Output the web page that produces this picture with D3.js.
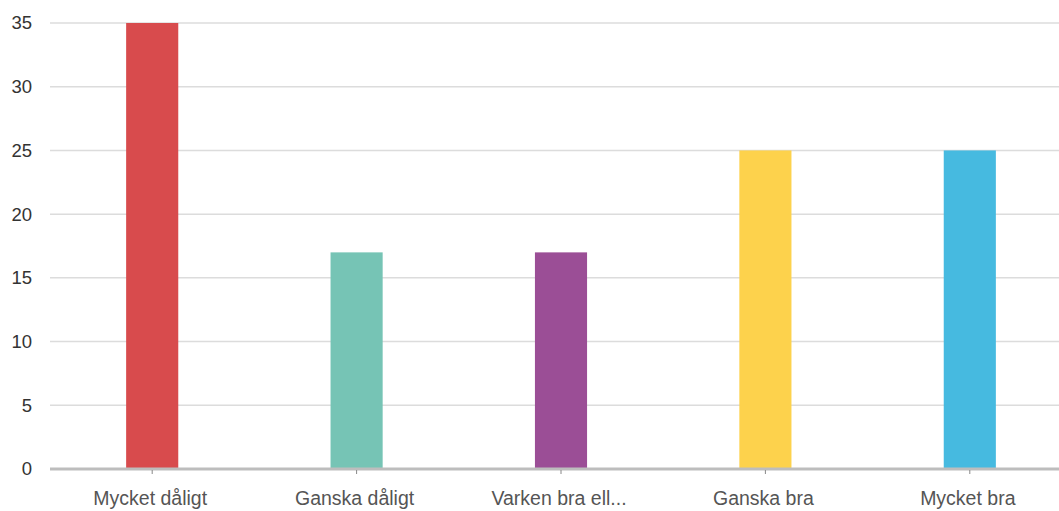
<!DOCTYPE html>
<html><head><meta charset="utf-8">
<script src="https://cdn.jsdelivr.net/npm/d3@7/dist/d3.min.js"></script>
<style>body{margin:0;background:#fff;}svg{display:block;}</style>
</head><body>
<svg id="c" width="1059" height="511"></svg>
<script>
const categories = ["Mycket dåligt","Ganska dåligt","Varken bra ell...","Ganska bra","Mycket bra"];
const values = [35,17,17,25,25];
const colors = ["#d84b4d","#76c4b5","#9b4e96","#fdd24c","#46bae0"];
const yTicks = [0,5,10,15,20,25,30,35];

const svg = d3.select("#c");
const x = d3.scaleBand().domain(categories).range([50,1072]).paddingInner(0.745).paddingOuter(0.3725);
const y = d3.scaleLinear().domain([0,35]).range([469,23]);

// gridlines
svg.append("g").selectAll("line").data(yTicks.filter(d=>d>0)).join("line")
  .attr("x1",50).attr("x2",1059).attr("y1",d=>y(d)).attr("y2",d=>y(d))
  .attr("stroke","#dcdcdc").attr("stroke-width",1.5);

// y axis labels
const ya = svg.append("g").attr("transform","translate(32,0)")
  .call(d3.axisLeft(y).tickValues(yTicks).tickSize(0).tickPadding(0));
ya.select(".domain").remove();
ya.selectAll("text").attr("font-family","Liberation Sans, Arial, sans-serif")
  .attr("font-size",18.5).attr("fill","#333");

// bars
svg.append("g").selectAll("rect").data(values).join("rect")
  .attr("x",(d,i)=>x(categories[i])).attr("width",x.bandwidth())
  .attr("y",d=>y(d)).attr("height",d=>y(0)-y(d))
  .attr("fill",(d,i)=>colors[i]);

// baseline + x axis
const xa = svg.append("g").attr("transform","translate(0,469)")
  .call(d3.axisBottom(x).tickSize(4).tickPadding(18));
xa.select(".domain").remove();
xa.insert("line",":first-child").attr("x1",50).attr("x2",1059).attr("y1",0).attr("y2",0)
  .attr("stroke","#bdbdbd").attr("stroke-width",3);
xa.selectAll(".tick line").attr("stroke","#888").attr("y1",1).attr("y2",5);
xa.selectAll("text").attr("font-family","Liberation Sans, Arial, sans-serif")
  .attr("font-size",19.5).attr("fill","#555").attr("dx",-2);
</script>
</body></html>
